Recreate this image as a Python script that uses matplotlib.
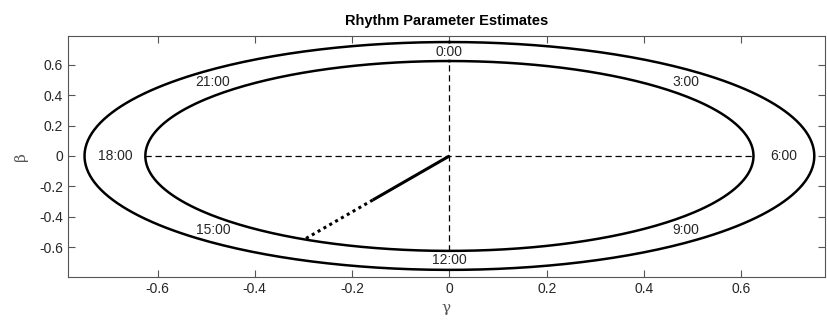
import numpy as np
import matplotlib.pyplot as plt

plt.rcParams['font.family'] = ['Liberation Sans', 'DejaVu Sans']

# clock dial
inner_r = 0.625
outer_r = 0.75
hours = [0, 3, 6, 9, 12, 15, 18, 21]
hour_labels = ['0:00', '3:00', '6:00', '9:00', '12:00', '15:00', '18:00', '21:00']

# estimate: amplitude, acrophase (h), upper confidence bound of amplitude
amplitude = 0.33
acrophase = 13.9
amp_upper = 0.62

xticks = [-0.6, -0.4, -0.2, 0, 0.2, 0.4, 0.6]
yticks = [-0.6, -0.4, -0.2, 0, 0.2, 0.4, 0.6]


def clock_xy(r, h):
    a = np.asarray(h) / 24.0 * 2 * np.pi
    return r * np.sin(a), r * np.cos(a)


fig = plt.figure(figsize=(8.27, 3.30), dpi=100)
ax = fig.add_axes([0.0822, 0.1615, 0.9154, 0.7295])

t = np.linspace(0, 24, 400)
for r in (inner_r, outer_r):
    x, y = clock_xy(r, t)
    ax.plot(x, y, color='black', lw=1.8)

ax.plot([-inner_r, inner_r], [0, 0], color='black', lw=0.9, ls=(0, (5, 3)))
ax.plot([0, 0], [-inner_r, inner_r], color='black', lw=0.9, ls=(0, (5, 3)))

mid_r = (inner_r + outer_r) / 2
for h, lab in zip(hours, hour_labels):
    x, y = clock_xy(mid_r, h)
    ax.text(x, y, lab, ha='center', va='center', fontsize=10, color='#262626')

x0, y0 = clock_xy(amplitude, acrophase)
x1, y1 = clock_xy(amp_upper, acrophase)
ax.plot([0, x0], [0, y0], color='black', lw=2.2, solid_capstyle='butt')
ax.plot([x0, x1], [y0, y1], color='black', lw=2.2, ls=(0, (1, 1.2)))

ax.set_xlim(-0.784, 0.772)
ax.set_ylim(-0.795, 0.79)
ax.set_xticks(xticks)
ax.set_yticks(yticks)
ax.set_xticklabels(['-0.6', '-0.4', '-0.2', '0', '0.2', '0.4', '0.6'])
ax.set_yticklabels(['-0.6', '-0.4', '-0.2', '0', '0.2', '0.4', '0.6'])
ax.tick_params(direction='in', top=True, right=True, length=5, width=0.8,
               colors='#555555', labelcolor='#262626', labelsize=10)
for s in ax.spines.values():
    s.set_color('#555555')
    s.set_linewidth(0.8)

ax.set_title('Rhythm Parameter Estimates', fontsize=10.5, fontweight='bold', pad=8)
ax.set_xlabel('γ', fontsize=11, color='#555555', labelpad=4, family='DejaVu Serif')
ax.set_ylabel('β', fontsize=11, color='#555555', labelpad=8, family='DejaVu Serif')

fig.savefig('out.png', dpi=100)
